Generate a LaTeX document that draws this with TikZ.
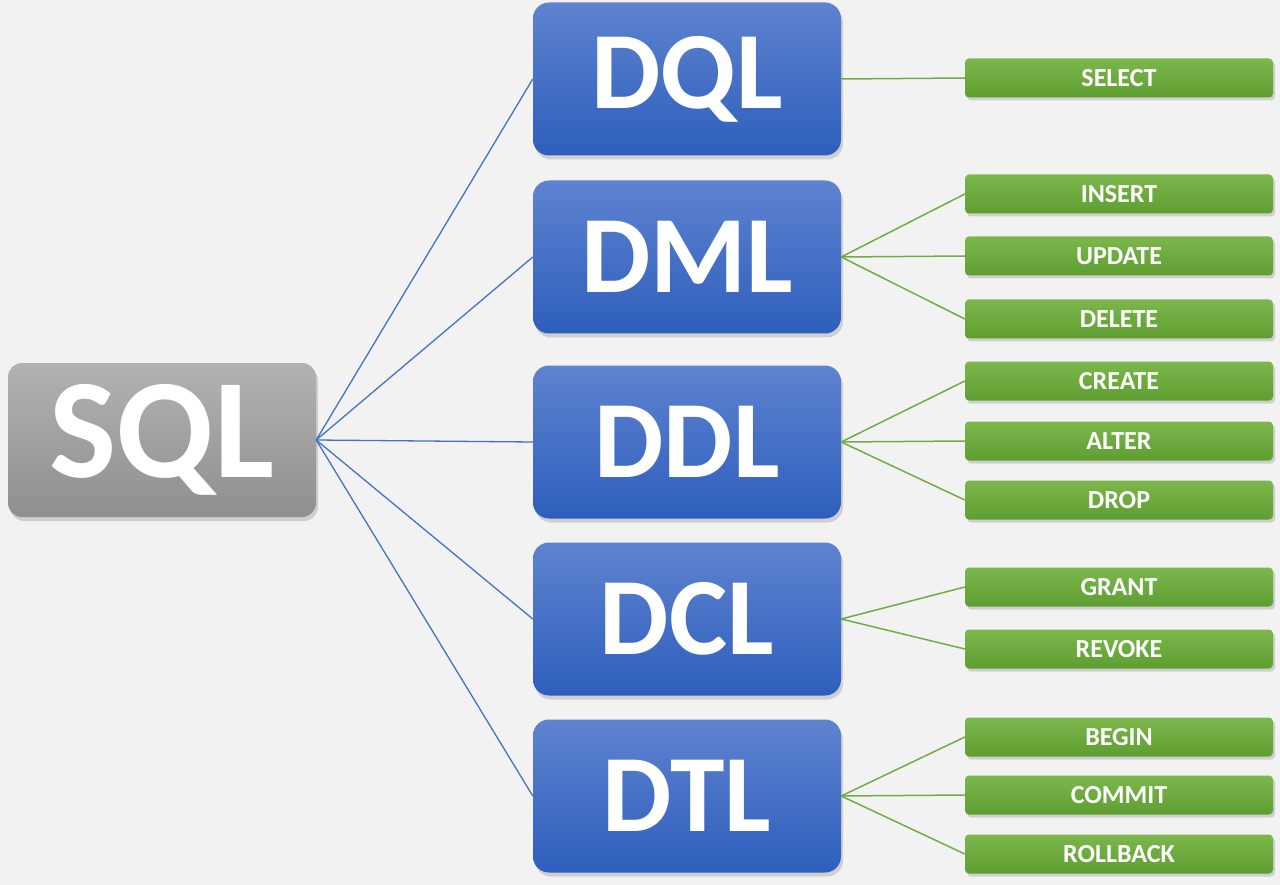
\documentclass[tikz,border=0pt]{standalone}
\usepackage{fontspec}
\setmainfont{Carlito}
\usetikzlibrary{shadows}
\definecolor{bg}{HTML}{F2F2F2}
\definecolor{bluetop}{HTML}{5E83CF}
\definecolor{bluebot}{HTML}{2E5EBD}
\definecolor{graytop}{HTML}{B2B2B2}
\definecolor{graybot}{HTML}{8F8F8F}
\definecolor{greentop}{HTML}{7CB74C}
\definecolor{greenbot}{HTML}{5E9E31}
\definecolor{blueline}{HTML}{4472C4}
\definecolor{greenline}{HTML}{70AD47}
\tikzset{
  sqlbox/.style={rounded corners=14pt, minimum width=308pt, minimum height=154pt,
    top color=graytop, bottom color=graybot, text=white, inner sep=0pt,
    font=\fontsize{142}{142}\selectfont\bfseries,
    drop shadow={shadow xshift=2pt, shadow yshift=-4pt, opacity=0.3}},
  catbox/.style={rounded corners=16pt, minimum width=308pt, minimum height=153pt,
    top color=bluetop, bottom color=bluebot, text=white, inner sep=0pt,
    font=\fontsize{110}{110}\selectfont\bfseries,
    drop shadow={shadow xshift=2pt, shadow yshift=-4pt, opacity=0.3}},
  cmdbox/.style={rounded corners=4pt, minimum width=308pt, minimum height=39pt,
    top color=greentop, bottom color=greenbot, text=white, inner sep=0pt,
    font=\fontsize{26}{26}\selectfont\bfseries,
    drop shadow={shadow xshift=2pt, shadow yshift=-3pt, opacity=0.3}},
  bline/.style={draw=blueline, line width=1.3pt},
  gline/.style={draw=greenline, line width=1.5pt},
}
\begin{document}
\begin{tikzpicture}[x=1pt,y=1pt]
\fill[bg] (0,0) rectangle (1280,-885);
\useasboundingbox (0,0) rectangle (1280,-885);

\node[sqlbox] (sql) at (162,-440) {SQL};

\node[catbox] (dql) at (687,-79) {DQL};
\node[catbox] (dml) at (687,-257) {DML};
\node[catbox] (ddl) at (687,-442) {DDL};
\node[catbox] (dcl) at (687,-619) {DCL};
\node[catbox] (dtl) at (687,-796) {DTL};

\node[cmdbox] (select) at (1119,-78) {SELECT};
\node[cmdbox] (insert) at (1119,-194) {INSERT};
\node[cmdbox] (update) at (1119,-256) {UPDATE};
\node[cmdbox] (delete) at (1119,-319) {DELETE};
\node[cmdbox] (create) at (1119,-381) {CREATE};
\node[cmdbox] (alter) at (1119,-441) {ALTER};
\node[cmdbox] (drop) at (1119,-500) {DROP};
\node[cmdbox] (grant) at (1119,-587) {GRANT};
\node[cmdbox] (revoke) at (1119,-649) {REVOKE};
\node[cmdbox] (begin) at (1119,-737) {BEGIN};
\node[cmdbox] (commit) at (1119,-795) {COMMIT};
\node[cmdbox] (rollback) at (1119,-854) {ROLLBACK};

\foreach \c in {dql,dml,ddl,dcl,dtl}
  \draw[bline] (sql.east) -- (\c.west);

\draw[gline] (dql.east) -- (select.west);
\foreach \c in {insert,update,delete}
  \draw[gline] (dml.east) -- (\c.west);
\foreach \c in {create,alter,drop}
  \draw[gline] (ddl.east) -- (\c.west);
\foreach \c in {grant,revoke}
  \draw[gline] (dcl.east) -- (\c.west);
\foreach \c in {begin,commit,rollback}
  \draw[gline] (dtl.east) -- (\c.west);
\end{tikzpicture}
\end{document}
